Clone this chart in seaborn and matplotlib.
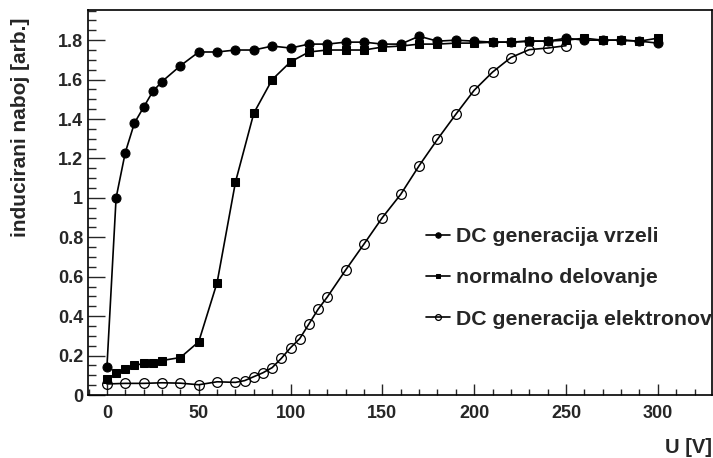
import numpy as np
import pandas as pd
import matplotlib
matplotlib.use('Agg')
import matplotlib.pyplot as plt
from matplotlib.ticker import MultipleLocator
import seaborn as sns

sns.set_style('white')
plt.rcParams['font.family'] = ['Liberation Sans', 'DejaVu Sans']
plt.rcParams['font.weight'] = 'bold'

# DC generacija vrzeli
u_vrzeli = [0, 5, 10, 15, 20, 25, 30, 40, 50, 60, 70, 80, 90, 100, 110, 120, 130, 140, 150,
            160, 170, 180, 190, 200, 210, 220, 230, 240, 250, 260, 270, 280, 290, 300]
q_vrzeli = [0.14, 1.00, 1.23, 1.38, 1.46, 1.54, 1.59, 1.67, 1.74, 1.74, 1.75, 1.75, 1.77, 1.76, 1.78, 1.78, 1.79, 1.79, 1.78,
            1.78, 1.82, 1.795, 1.80, 1.795, 1.79, 1.79, 1.795, 1.795, 1.81, 1.80, 1.80, 1.80, 1.795, 1.785]

# normalno delovanje
u_normal = [0, 5, 10, 15, 20, 25, 30, 40, 50, 60, 70, 80, 90, 100, 110, 120, 130, 140, 150,
            160, 170, 180, 190, 200, 210, 220, 230, 240, 250, 260, 270, 280, 290, 300]
q_normal = [0.08, 0.11, 0.13, 0.15, 0.16, 0.16, 0.175, 0.19, 0.27, 0.57, 1.08, 1.43, 1.60, 1.69, 1.74, 1.75, 1.75, 1.75, 1.765,
            1.77, 1.78, 1.78, 1.785, 1.785, 1.79, 1.79, 1.795, 1.795, 1.80, 1.81, 1.80, 1.80, 1.795, 1.81]

# DC generacija elektronov
u_elek = [0, 10, 20, 30, 40, 50, 60, 70, 75, 80, 85, 90, 95, 100, 105, 110, 115, 120,
          130, 140, 150, 160, 170, 180, 190, 200, 210, 220, 230, 240, 250]
q_elek = [0.056, 0.059, 0.059, 0.062, 0.06, 0.052, 0.067, 0.064, 0.073, 0.093, 0.113, 0.139, 0.186, 0.24, 0.286, 0.36, 0.435, 0.497,
          0.634, 0.766, 0.90, 1.018, 1.163, 1.297, 1.424, 1.546, 1.638, 1.712, 1.752, 1.76, 1.772]

fig = plt.figure(figsize=(7.13, 4.58), dpi=100)
ax = fig.add_axes([88 / 713, 1 - 395 / 458, 624 / 713, 385 / 458])

sns.lineplot(x=u_vrzeli, y=q_vrzeli, ax=ax, color='black', linewidth=1.2, marker='o',
             markersize=6.5, markeredgecolor='black', markerfacecolor='black',
             label='DC generacija vrzeli')
sns.lineplot(x=u_normal, y=q_normal, ax=ax, color='black', linewidth=1.2, marker='s',
             markersize=6, markeredgecolor='black', markerfacecolor='black',
             label='normalno delovanje')
sns.lineplot(x=u_elek, y=q_elek, ax=ax, color='black', linewidth=1.2, marker='o',
             markersize=7, markeredgecolor='black', markerfacecolor='none', markeredgewidth=0.9,
             label='DC generacija elektronov')

ax.set_xlim(-10.3, 329.5)
ax.set_ylim(0, 1.953)
ax.xaxis.set_major_locator(MultipleLocator(50))
ax.xaxis.set_minor_locator(MultipleLocator(10))
ax.yaxis.set_minor_locator(MultipleLocator(0.05))
ax.set_yticks(np.arange(0, 1.81, 0.2))
ax.set_yticklabels(['0', '0.2', '0.4', '0.6', '0.8', '1', '1.2', '1.4', '1.6', '1.8'])

ax.tick_params(axis='x', which='major', direction='in', length=8, width=1, labelsize=13, pad=7, bottom=True)
ax.tick_params(axis='x', which='minor', direction='in', length=4.3, width=1, bottom=True)
ax.tick_params(axis='y', which='major', direction='in', length=12, width=1, labelsize=13, pad=3.5, left=True)
ax.tick_params(axis='y', which='minor', direction='in', length=6, width=1, left=True)
for lab in ax.get_xticklabels() + ax.get_yticklabels():
    lab.set_fontweight('bold')

for sp in ax.spines.values():
    sp.set_color('black')
    sp.set_linewidth(1.2)

ax.set_xlabel('U [V]', fontsize=14.5, fontweight='bold')
ax.xaxis.set_label_coords(1.0, -0.161)
ax.xaxis.label.set_horizontalalignment('right')
ax.xaxis.label.set_verticalalignment('bottom')
ax.set_ylabel('inducirani naboj [arb.]', fontsize=15, fontweight='bold')
ax.yaxis.set_label_coords(-0.093, 0.979)
ax.yaxis.label.set_horizontalalignment('right')

leg = ax.legend(loc='center left', bbox_to_anchor=(0.5417, 0.304), frameon=False,
                fontsize=15.3, handlelength=1.15, handletextpad=0.24, labelspacing=1.04,
                borderpad=0, borderaxespad=0, markerscale=0.6)
for t in leg.get_texts():
    t.set_fontweight('bold')

fig.savefig('out.png', dpi=100)
